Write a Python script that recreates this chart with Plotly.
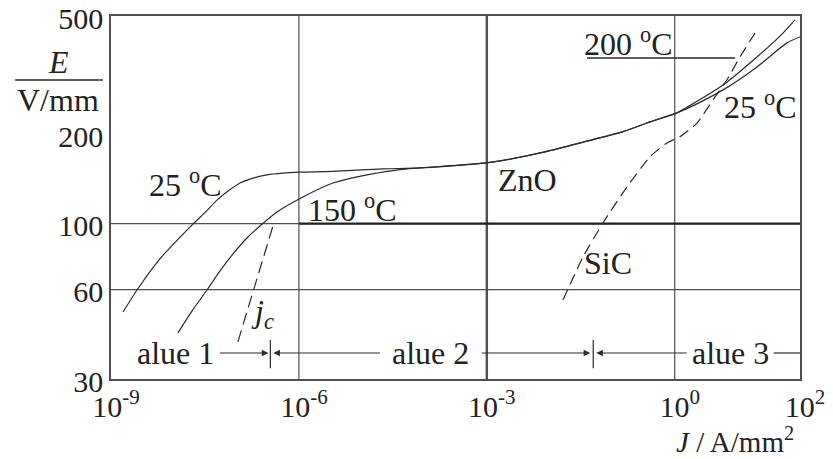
import numpy as np
import plotly.graph_objects as go

# ---------------- data ----------------
# ZnO 25 °C (low-current branch + shared middle part + high-current lower branch)
zno25_J = [1.56e-9, 2.6e-9, 6.0e-9, 1.82e-8, 3.3e-8, 4.92e-8, 7.5e-8, 1.15e-7, 1.8e-7, 3.09e-7,
           5.5e-7, 1.04e-6, 3.5e-6, 2.2e-5, 8.6e-5,
           1.2e-3, 7.1e-3, 0.0307, 0.149, 0.403, 1.09, 5.9, 20.6, 62, 100]
zno25_E = [50.4, 59.8, 76.0, 97.4, 110, 120, 129, 137, 142, 146,
           148, 149, 150, 153, 154,
           161, 173, 187, 204, 220, 236, 282, 337, 406, 425]
# ZnO 150 °C low-current branch (merges with the 25 °C curve)
zno150_J = [1.17e-8, 1.96e-8, 3.41e-8, 5.5e-8, 8.87e-8, 1.48e-7, 2.39e-7, 4.47e-7, 1.16e-6,
            3.5e-6, 1.22e-5, 4.1e-5, 8.6e-5,
            1.2e-3, 7.1e-3, 0.0307, 0.149, 0.403, 1.09]
zno150_E = [42.9, 50.8, 59.8, 69.3, 79.1, 89.5, 98.2, 109.5, 123,
            137, 146, 152, 154,
            161, 173, 187, 204, 220, 236]
# ZnO high-temperature upper branch at high current
zno200_J = [1.09, 5.9, 20.6, 53.5, 83]
zno200_E = [236, 293, 364, 438, 485]
# SiC (dashed)
sic_J = [0.0164, 0.0343, 0.0715, 0.173, 0.403, 0.752, 1.21, 2.27, 4.08, 6.82, 11.0, 19.1]
sic_E = [55.3, 77.2, 100.5, 133, 168, 187, 196, 218, 261, 305, 364, 438]
# critical current line j_c (dashed)
jc_J = [1.06e-7, 3.85e-7]
jc_E = [40, 98.2]

# axes
x_ticks = [1e-9, 1e-6, 1e-3, 1, 1e2]
x_ticktext = ["10<sup>-9</sup>", "10<sup>-6</sup>", "10<sup>-3</sup>", "10<sup>0</sup>", "10<sup>2</sup>"]
y_ticks = [30, 60, 100, 200, 500]
y_ticktext = ["30", "60", "100", "200", "500"]
x_range = [1e-9, 1e2]
y_range = [30, 500]
grid_J = [1e-6, 1e-3, 1]
grid_E = [60, 100]

# regions
region_bounds = [3.5e-7, 5e-2]
region_names = ["alue 1", "alue 2", "alue 3"]
region_label_J = [1.09e-8, 1.24e-4, 7.9]
region_E = 36.7
region_tick_E = [32.6, 40.6]
region3_line_J = [38.0, 100]

# text labels
labels = [
    ("25 <sup>o</sup>C", 1.57e-8, 137),
    ("150 <sup>o</sup>C", 7.3e-6, 113),
    ("ZnO", 4.4e-3, 140),
    ("SiC", 0.086, 74),
    ("200 <sup>o</sup>C", 0.186, 409),
    ("25 <sup>o</sup>C", 23, 251),
    ("<i>j</i><sub><i>c</i></sub>", 2.67e-7, 49.7),
]
leader_J = [0.0397, 9.2]
leader_E = [361, 361]

# ---------------- figure ----------------
FONT = "Liberation Serif"
FS = 32
INK = "#2b2b2b"
GRID = "#505050"
TXT = "#222"

fig = go.Figure()

# grid lines
for gx in grid_J:
    fig.add_trace(go.Scatter(x=[gx, gx], y=y_range, mode="lines",
                             line=dict(color=GRID, width=2.4 if gx == 1e-3 else 1.2),
                             hoverinfo="skip", showlegend=False))
for gy in grid_E:
    fig.add_trace(go.Scatter(x=x_range, y=[gy, gy], mode="lines",
                             line=dict(color=GRID, width=1.2),
                             hoverinfo="skip", showlegend=False))
# emphasised part of the 100 line
fig.add_trace(go.Scatter(x=[grid_J[0], x_range[1]], y=[100, 100], mode="lines",
                         line=dict(color="#222", width=2.2), hoverinfo="skip", showlegend=False))

# curves
curve_line = dict(color=INK, width=1.2, shape="spline", smoothing=0.8)
fig.add_trace(go.Scatter(x=zno25_J, y=zno25_E, mode="lines", line=curve_line, name="ZnO 25 °C"))
fig.add_trace(go.Scatter(x=zno150_J, y=zno150_E, mode="lines", line=curve_line, name="ZnO 150 °C"))
fig.add_trace(go.Scatter(x=zno200_J, y=zno200_E, mode="lines", line=curve_line, name="ZnO 200 °C"))
fig.add_trace(go.Scatter(x=sic_J, y=sic_E, mode="lines",
                         line=dict(color=INK, width=1.2, dash="11px,6px", shape="spline", smoothing=0.5),
                         name="SiC"))
fig.add_trace(go.Scatter(x=jc_J, y=jc_E, mode="lines",
                         line=dict(color=INK, width=1.2, dash="12px,6px"), name="j_c"))

# leader under "200 °C"
fig.add_trace(go.Scatter(x=leader_J, y=leader_E, mode="lines",
                         line=dict(color=INK, width=1.5), hoverinfo="skip"))

# region boundary ticks
for b in region_bounds:
    fig.add_trace(go.Scatter(x=[b, b], y=region_tick_E, mode="lines",
                             line=dict(color=INK, width=1.2), hoverinfo="skip"))
fig.add_trace(go.Scatter(x=region3_line_J, y=[region_E, region_E], mode="lines",
                         line=dict(color=INK, width=1.2), hoverinfo="skip"))

annotations = []
txtfont = dict(family=FONT, size=FS, color=TXT)
# region labels
for name, j in zip(region_names, region_label_J):
    annotations.append(dict(x=np.log10(j), y=np.log10(region_E), xref="x", yref="y",
                            xanchor="center", yanchor="middle",
                            text=name, showarrow=False, font=txtfont))
# region arrows: (boundary, tail offset px, head shift px)
arrow_specs = [(region_bounds[0], -50, -2), (region_bounds[0], 108, 3),
               (region_bounds[1], -110, -3), (region_bounds[1], 92, 3)]
for b, ax, xs in arrow_specs:
    annotations.append(dict(x=np.log10(b), y=np.log10(region_E), xref="x", yref="y",
                            ax=ax, ay=0, axref="pixel", ayref="pixel", xshift=xs,
                            text="", showarrow=True, arrowhead=2, arrowsize=1.1,
                            arrowwidth=1.2, arrowcolor=INK))
# curve labels
for text, j, e in labels:
    annotations.append(dict(x=np.log10(j), y=np.log10(e), xref="x", yref="y",
                            xanchor="center", yanchor="middle",
                            text=text, showarrow=False, font=txtfont))
# axis titles
annotations.append(dict(x=-0.0769, y=0.8733, xref="paper", yref="paper", text="<i>E</i>",
                        xanchor="center", yanchor="middle", showarrow=False, font=txtfont))
annotations.append(dict(x=-0.0769, y=0.7686, xref="paper", yref="paper", text="V/mm",
                        xanchor="center", yanchor="middle", showarrow=False, font=txtfont))
annotations.append(dict(x=0.905, y=-0.168, xref="paper", yref="paper",
                        text="<i>J</i> / A/mm<sup>2</sup>",
                        xanchor="center", yanchor="middle", showarrow=False,
                        font=dict(family=FONT, size=29, color=TXT)))

fig.update_layout(
    width=833, height=459,
    margin=dict(l=111, r=33, t=16, b=80, autoexpand=False),
    paper_bgcolor="white", plot_bgcolor="white",
    showlegend=False,
    font=dict(family=FONT, size=FS, color=TXT),
    annotations=annotations,
    shapes=[dict(type="line", xref="paper", yref="paper",
                 x0=-0.1393, x1=-0.0116, y0=0.8237, y1=0.8237,
                 line=dict(color=INK, width=1.5))],
)
fig.update_xaxes(type="log", range=[np.log10(x_range[0]), np.log10(x_range[1])],
                 tickvals=x_ticks, ticktext=x_ticktext, showgrid=False, zeroline=False,
                 showline=True, mirror=True, linecolor=GRID, linewidth=1.6, automargin=False,
                 ticks="", ticklabelshift=5, ticklabeloverflow="allow",
                 tickfont=dict(family=FONT, size=30, color=TXT))
fig.update_yaxes(type="log", range=[np.log10(y_range[0]), np.log10(y_range[1])],
                 tickvals=y_ticks, ticktext=y_ticktext, showgrid=False, zeroline=False,
                 showline=True, mirror=True, linecolor=GRID, linewidth=1.6, automargin=False,
                 ticks="", ticklabelshift=2, ticklabeloverflow="allow",
                 tickfont=dict(family=FONT, size=30, color=TXT))

# remove the default page margin so the figure sits at the window's top-left corner
fig.write_html("out.html", config={"displayModeBar": False},
               post_script="document.body.style.margin='0';")
